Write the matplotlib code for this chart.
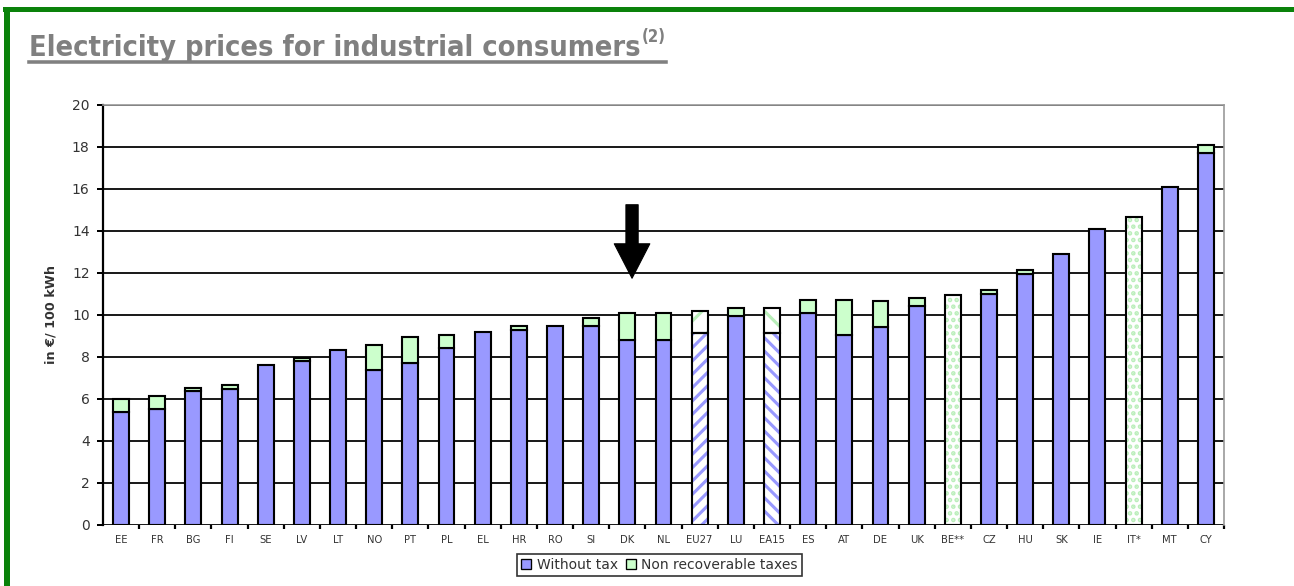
import numpy as np
import matplotlib
matplotlib.use("Agg")
import matplotlib.pyplot as plt
from matplotlib.patches import Patch, Rectangle
from matplotlib.lines import Line2D

# ---- data (euro cents per kWh) ----
countries = ["EE", "FR", "BG", "FI", "SE", "LV", "LT", "NO", "PT", "PL",
             "EL", "HR", "RO", "SI", "DK", "NL", "EU27", "LU", "EA15", "ES",
             "AT", "DE", "UK", "BE**", "CZ", "HU", "SK", "IE", "IT*", "MT", "CY"]
without_tax = [5.40, 5.52, 6.38, 6.50, 7.60, 7.80, 8.33, 7.37, 7.70, 8.45,
               9.17, 9.30, 9.46, 9.46, 8.80, 8.80, 9.16, 9.95, 9.13, 10.10,
               9.05, 9.44, 10.43, 0.0, 11.00, 11.94, 12.89, 14.08, 0.0, 16.11, 17.73]
non_recoverable_taxes = [0.60, 0.63, 0.15, 0.18, 0.00, 0.13, 0.00, 1.18, 1.23, 0.61,
                         0.00, 0.16, 0.00, 0.38, 1.28, 1.28, 1.04, 0.37, 1.19, 0.61,
                         1.65, 1.24, 0.38, 0.0, 0.17, 0.22, 0.00, 0.00, 0.0, 0.00, 0.37]
# countries reported only as a single total price
total_only = {"BE**": 10.94, "IT*": 14.65}
# aggregates drawn with hatching
aggregate_hatch = {"EU27": "//", "EA15": "\\\\"}

y_ticks = [0, 2, 4, 6, 8, 10, 12, 14, 16, 18, 20]

BLUE = "#9999ff"
GREEN = "#ccffcc"
PALE_GREEN = "#b9eeb9"
TEXT_GREY = "#333333"

DPI = 80
W, H = 1294, 586
plt.rcParams["hatch.linewidth"] = 2.8
fig = plt.figure(figsize=(W / DPI, H / DPI), dpi=DPI)
fig.patch.set_facecolor("white")

ax = fig.add_axes([103 / W, 1 - 525 / H, (1224 - 103) / W, (525 - 105) / H])

x = np.arange(len(countries))
bw = 0.44
wt = np.array(without_tax)
tx = np.array(non_recoverable_taxes)

for i, c in enumerate(countries):
    if c in total_only:
        # white bar with pale green pattern
        ax.bar(i, total_only[c], bw, color="white", edgecolor=PALE_GREEN,
               hatch="..", linewidth=0, zorder=3)
        ax.bar(i, total_only[c], bw, fill=False, edgecolor="black",
               linewidth=1.9, zorder=4)
    elif c in aggregate_hatch:
        ax.bar(i, wt[i], bw, color="white", edgecolor=BLUE,
               hatch=aggregate_hatch[c], linewidth=0, zorder=3)
        ax.bar(i, wt[i], bw, fill=False, edgecolor="black", linewidth=1.9, zorder=4)
        ax.bar(i, tx[i], bw, bottom=wt[i], color="white", edgecolor=PALE_GREEN,
               hatch=aggregate_hatch[c][0], linewidth=0, zorder=3)
        ax.bar(i, tx[i], bw, bottom=wt[i], fill=False, edgecolor="black",
               linewidth=1.9, zorder=4)
    else:
        ax.bar(i, wt[i], bw, color=BLUE, edgecolor="black", linewidth=1.9, zorder=3)
        if tx[i] > 0:
            ax.bar(i, tx[i], bw, bottom=wt[i], color=GREEN, edgecolor="black",
                   linewidth=1.9, zorder=3)

ax.set_xlim(-0.5, len(countries) - 0.5)
ax.set_ylim(0, 20)
ax.set_yticks(y_ticks)
ax.set_yticklabels([str(v) for v in y_ticks], fontsize=12.5, color=TEXT_GREY)
ax.yaxis.grid(True, color="#111111", linewidth=1.7, zorder=1)
ax.set_axisbelow(True)

ax.set_xticks(x)
ax.set_xticklabels(countries, fontsize=9, color=TEXT_GREY)
ax.set_xticks(np.arange(len(countries)) + 0.5, minor=True)
ax.tick_params(axis="x", which="major", length=0, pad=9)
ax.tick_params(axis="x", which="minor", length=4, width=2, color="black", direction="out")
ax.tick_params(axis="y", length=5, width=1.8, color="black", pad=7)

for s in ("top", "right"):
    ax.spines[s].set_color("#9a9a9a")
    ax.spines[s].set_linewidth(1.5)
ax.spines["bottom"].set_visible(False)
ax.spines["left"].set_color("black")
ax.spines["left"].set_linewidth(2)

ax.set_ylabel("in €/ 100 kWh", fontsize=11.5, color=TEXT_GREY, weight="bold")
ax.yaxis.set_label_coords(-0.041, 0.5)

# arrow pointing at DK
dk = countries.index("DK")
ax.annotate("", xy=(dk + 0.13, 11.75), xytext=(dk + 0.13, 15.25),
            arrowprops=dict(arrowstyle="simple,head_width=3.2,head_length=3.1,tail_width=1.1",
                            mutation_scale=10, color="black", shrinkA=0, shrinkB=0),
            zorder=6)

# legend
handles = [Patch(facecolor=BLUE, edgecolor="black", linewidth=1.2),
           Patch(facecolor=GREEN, edgecolor="black", linewidth=1.2)]
leg = fig.legend(handles, ["Without tax", "Non recoverable taxes"], ncol=2,
                 loc="center", bbox_to_anchor=(659.5 / W, 1 - 565 / H),
                 fontsize=12.5, frameon=True, fancybox=False, handlelength=0.7,
                 handleheight=0.7, handletextpad=0.4, columnspacing=0.6,
                 borderpad=0.3, labelcolor=TEXT_GREY)
leg.get_frame().set_edgecolor("black")
leg.get_frame().set_linewidth(1.5)

# green frame
fig.add_artist(Rectangle((3 / W, 1 - 12 / H), 1, 5 / H, transform=fig.transFigure,
                         color="#0a820a", lw=0))
fig.add_artist(Rectangle((4 / W, 0), 6 / W, 1 - 7 / H, transform=fig.transFigure,
                         color="#0a820a", lw=0))

# title with superscript and underline
t = fig.text(29 / W, 1 - 56 / H, "Electricity prices for industrial consumers",
             fontsize=26, color="#808080", family="DejaVu Sans", stretch="condensed",
             weight="bold", va="baseline", ha="left")
fig.canvas.draw()
bb = t.get_window_extent()
sup = fig.text(bb.x1 / W + 1 / W, 1 - 42 / H, "(2)", fontsize=15, color="#808080",
               family="DejaVu Sans", stretch="condensed", weight="bold",
               va="baseline", ha="left")
fig.canvas.draw()
bb2 = sup.get_window_extent()
fig.add_artist(Line2D([bb.x0 / W, bb2.x1 / W], [1 - 61.5 / H, 1 - 61.5 / H],
                      transform=fig.transFigure, color="#808080", linewidth=3.2))

fig.savefig("out.png", dpi=DPI)
